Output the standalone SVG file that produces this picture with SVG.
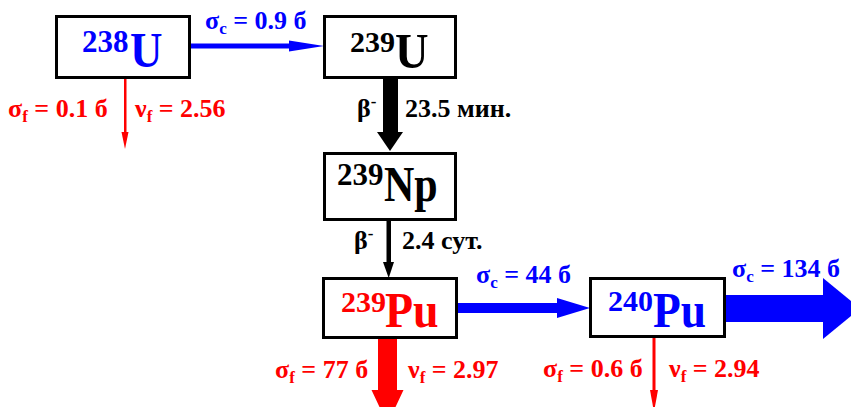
<svg xmlns="http://www.w3.org/2000/svg" width="851" height="407" viewBox="0 0 851 407">
<rect width="851" height="407" fill="#fff"/>
<g id="connectors">
  <g fill="#0000ff">
    <rect x="191" y="43.5" width="100" height="5"/>
    <polygon points="289,40.5 324,46 289,51.5"/>
    <rect x="458" y="303" width="100" height="10"/>
    <polygon points="557,298 590,308 557,318"/>
    <rect x="725" y="295" width="99" height="27"/>
    <polygon points="823,278 860,308.5 823,339"/>
  </g>
  <g fill="#ff0000">
    <rect x="124" y="78" width="2.5" height="56"/>
    <polygon points="121.5,132 128.5,132 125,149"/>
    <rect x="378" y="339" width="19" height="52"/>
    <polygon points="371.5,390 403.5,390 387.5,424"/>
    <rect x="652.5" y="338" width="3" height="54"/>
    <polygon points="650,390 658,390 654,412"/>
  </g>
  <g fill="#000">
    <rect x="383" y="78" width="15" height="55"/>
    <polygon points="377,132 403,132 390,151"/>
    <rect x="386.5" y="220" width="4.5" height="43"/>
    <polygon points="383,262 394,262 388.7,278"/>
  </g>
</g>
<g id="n238U">
  <rect fill="#fff" stroke="#000" stroke-width="3" x="56.5" y="16.5" width="133" height="61"/>
  <text font-family="Liberation Serif" font-weight="bold" font-size="31" fill="#0000ff" x="82" y="52">238</text>
  <text font-family="Liberation Serif" font-weight="bold" font-size="50" fill="#0000ff" transform="translate(130,67) scale(0.9,1)">U</text>
</g>
<g id="n239U">
  <rect fill="#fff" stroke="#000" stroke-width="3" x="324.5" y="16.5" width="131" height="61"/>
  <text font-family="Liberation Serif" font-weight="bold" font-size="30" fill="#000" x="350" y="52">239</text>
  <text font-family="Liberation Serif" font-weight="bold" font-size="50" fill="#000" transform="translate(395,68) scale(0.93,1)">U</text>
</g>
<g id="n239Np">
  <rect fill="#fff" stroke="#000" stroke-width="3" x="324.5" y="153.5" width="131" height="66"/>
  <text font-family="Liberation Serif" font-weight="bold" font-size="31" fill="#000" x="337" y="185">239</text>
  <text font-family="Liberation Serif" font-weight="bold" font-size="50" fill="#000" transform="translate(384,201) scale(0.84,1)">Np</text>
</g>
<g id="n239Pu">
  <rect fill="#fff" stroke="#000" stroke-width="3" x="323.5" y="278.5" width="133" height="59"/>
  <text font-family="Liberation Serif" font-weight="bold" font-size="30" fill="#ff0000" x="341" y="312">239</text>
  <text font-family="Liberation Serif" font-weight="bold" font-size="50" fill="#ff0000" transform="translate(385,327) scale(0.92,1)">Pu</text>
</g>
<g id="n240Pu">
  <rect fill="#fff" stroke="#000" stroke-width="3" x="590.5" y="278.5" width="134" height="58"/>
  <text font-family="Liberation Serif" font-weight="bold" font-size="30" fill="#0000ff" x="608" y="311">240</text>
  <text font-family="Liberation Serif" font-weight="bold" font-size="50" fill="#0000ff" transform="translate(653,327) scale(0.91,1)">Pu</text>
</g>
<text font-family="Liberation Serif" font-weight="bold" font-size="26" fill="#0000ff" x="205" y="29">σ<tspan font-size="17" dy="5">c</tspan><tspan dy="-5"> = 0.9 б</tspan></text>
<text font-family="Liberation Serif" font-weight="bold" font-size="26" fill="#ff0000" x="8" y="117">σ<tspan font-size="17" dy="5">f</tspan><tspan dy="-5"> = 0.1 б</tspan></text>
<text font-family="Liberation Serif" font-weight="bold" font-size="26" fill="#ff0000" x="135" y="117">ν<tspan font-size="17" dy="5">f</tspan><tspan dy="-5"> = 2.56</tspan></text>
<text font-family="Liberation Serif" font-weight="bold" font-size="26" fill="#000" x="357" y="117">β<tspan font-size="17" dy="-10">-</tspan></text>
<text font-family="Liberation Serif" font-weight="bold" font-size="26" fill="#000" x="405" y="117">23.5 мин.</text>
<text font-family="Liberation Serif" font-weight="bold" font-size="26" fill="#000" x="354" y="249">β<tspan font-size="17" dy="-10">-</tspan></text>
<text font-family="Liberation Serif" font-weight="bold" font-size="26" fill="#000" x="402" y="249">2.4 сут.</text>
<text font-family="Liberation Serif" font-weight="bold" font-size="26" fill="#0000ff" x="476" y="283">σ<tspan font-size="17" dy="5">c</tspan><tspan dy="-5"> = 44 б</tspan></text>
<text font-family="Liberation Serif" font-weight="bold" font-size="26" fill="#0000ff" x="732" y="277">σ<tspan font-size="17" dy="5">c</tspan><tspan dy="-5"> = 134 б</tspan></text>
<text font-family="Liberation Serif" font-weight="bold" font-size="26" fill="#ff0000" x="275" y="378">σ<tspan font-size="17" dy="5">f</tspan><tspan dy="-5"> = 77 б</tspan></text>
<text font-family="Liberation Serif" font-weight="bold" font-size="26" fill="#ff0000" x="408" y="378">ν<tspan font-size="17" dy="5">f</tspan><tspan dy="-5"> = 2.97</tspan></text>
<text font-family="Liberation Serif" font-weight="bold" font-size="26" fill="#ff0000" x="543" y="377">σ<tspan font-size="17" dy="5">f</tspan><tspan dy="-5"> = 0.6 б</tspan></text>
<text font-family="Liberation Serif" font-weight="bold" font-size="26" fill="#ff0000" x="669" y="377">ν<tspan font-size="17" dy="5">f</tspan><tspan dy="-5"> = 2.94</tspan></text>
</svg>
